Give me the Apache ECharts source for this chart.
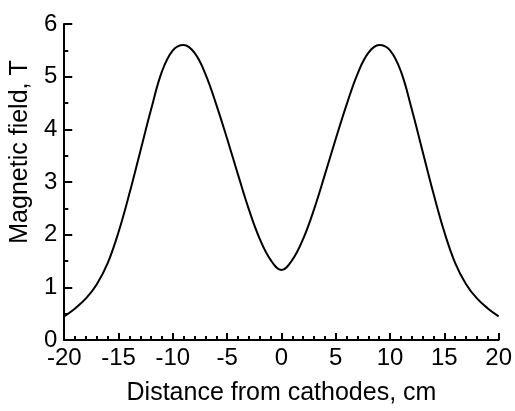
<!DOCTYPE html>
<html>
<head>
<meta charset="utf-8">
<script src="https://cdn.jsdelivr.net/npm/echarts@6/dist/echarts.min.js"></script>
<style>html,body{margin:0;padding:0;background:#fff}#c{width:515px;height:411px}</style>
</head>
<body>
<div id="c"></div>
<script>
var xValues = [-20,-19,-18,-17,-16,-15,-14,-13,-12,-11,-10,-9,-8,-7,-6,-5,-4,-3,-2,-1,0,1,2,3,4,5,6,7,8,9,10,11,12,13,14,15,16,17,18,19,20];
var fieldValues = [0.45,0.6,0.79,1.06,1.46,2.05,2.78,3.58,4.38,5.1,5.5,5.6,5.45,5.05,4.47,3.82,3.14,2.48,1.92,1.52,1.33,1.52,1.92,2.48,3.14,3.82,4.47,5.05,5.45,5.6,5.5,5.1,4.38,3.58,2.78,2.05,1.46,1.06,0.79,0.6,0.45];
var xTitle = "Distance from cathodes, cm";
var yTitle = "Magnetic field, T";

var data = xValues.map(function(x,i){return [x, fieldValues[i]];});
var font = "Liberation Sans, Arial, sans-serif";
var chart = echarts.init(document.getElementById('c'), null, {renderer:'canvas'});
chart.setOption({
  animation:false,
  backgroundColor:'#fff',
  grid:{left:62,right:14,top:24,bottom:64,containLabel:false},
  xAxis:{
    type:'value',min:-20,max:20,interval:5,
    name:xTitle,nameLocation:'middle',nameGap:41,
    nameTextStyle:{fontFamily:font,fontSize:25,color:'#000'},
    axisLine:{show:true,onZero:false,lineStyle:{color:'#000',width:2}},
    axisTick:{show:true,inside:true,length:7,lineStyle:{color:'#000',width:2}},
    minorTick:{show:true,splitNumber:5,length:4,lineStyle:{color:'#000',width:2}},
    axisLabel:{fontFamily:font,fontSize:24,color:'#000',margin:6},
    splitLine:{show:false}
  },
  yAxis:{
    type:'value',min:0,max:6,interval:1,
    name:yTitle,nameLocation:'middle',nameGap:27,
    nameTextStyle:{fontFamily:font,fontSize:25,color:'#000',padding:[0,0,0,60]},
    axisLine:{show:true,onZero:false,lineStyle:{color:'#000',width:2}},
    axisTick:{show:true,inside:true,length:8,lineStyle:{color:'#000',width:2}},
    minorTick:{show:true,splitNumber:2,length:4,lineStyle:{color:'#000',width:2}},
    axisLabel:{fontFamily:font,fontSize:24,color:'#000',margin:7},
    splitLine:{show:false}
  },
  series:[{
    type:'line',data:data,smooth:0.4,showSymbol:false,
    lineStyle:{color:'#000',width:2},clip:false
  }]
});
</script>
</body>
</html>
